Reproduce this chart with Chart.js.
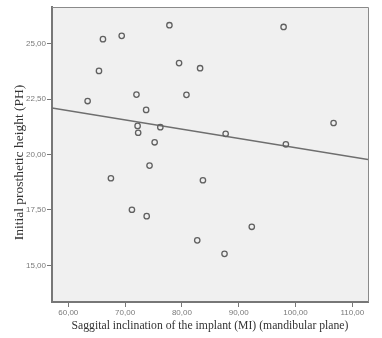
<!DOCTYPE html>
<html>
<head>
<meta charset="utf-8">
<script src="https://cdn.jsdelivr.net/npm/chart.js@4"></script>
<style>
  html, body { margin: 0; padding: 0; background: #fff; }
  #wrap { width: 382px; height: 338px; }
</style>
</head>
<body>
<div id="wrap"><canvas id="scatter-chart" width="382" height="338"></canvas></div>
<script>
// Saggital inclination (MI) vs initial prosthetic height (PH)
const inclination = [77.8, 66.1, 69.4, 79.5, 83.2, 65.4, 63.4, 72.0, 80.8, 73.7, 72.2, 72.3, 76.2,
                     75.2, 74.3, 97.9, 106.7, 87.7, 98.3, 67.5, 71.2, 73.8, 82.7, 83.7, 92.3, 87.5];
const prostheticHeight = [25.83, 25.20, 25.35, 24.12, 23.89, 23.77, 22.41, 22.70, 22.69, 22.01, 21.29, 20.98, 21.23,
                          20.55, 19.50, 25.75, 21.42, 20.93, 20.46, 18.93, 17.51, 17.22, 16.13, 18.84, 16.74, 15.52];

const xTicks = [60, 70, 80, 90, 100, 110];
const yTicks = [15, 17.5, 20, 22.5, 25];
const xRange = [57.13, 112.76];
const yRange = [13.35, 26.65];

const xTitle = 'Saggital inclination of the implant (MI) (mandibular plane)';
const yTitle = 'Initial prosthetic height (PH)';

const points = inclination.map((x, i) => ({ x: x, y: prostheticHeight[i] }));

// least squares fit line
function computeRegression(data) {
    const N = data.length;
    const sumX = data.reduce((acc, p) => acc + p.x, 0);
    const sumY = data.reduce((acc, p) => acc + p.y, 0);
    const sumXY = data.reduce((acc, p) => acc + p.x * p.y, 0);
    const sumX2 = data.reduce((acc, p) => acc + p.x * p.x, 0);
    const slope = (N * sumXY - sumX * sumY) / (N * sumX2 - sumX * sumX);
    const intercept = (sumY - slope * sumX) / N;
    return { slope, intercept };
}
const fit = computeRegression(points);
const fitPoints = xRange.map(x => ({ x: x, y: fit.slope * x + fit.intercept }));

const fmt = v => v.toFixed(2).replace('.', ',');

// gray plot background, thin frame, y title (sits a bit below the axis centre in the original)
const plotFrame = {
    id: 'plotFrame',
    beforeDraw(chart) {
        const { ctx, chartArea: a } = chart;
        ctx.save();
        ctx.fillStyle = '#f0f0f0';
        ctx.fillRect(a.left, a.top, a.right - a.left, a.bottom - a.top);
        ctx.restore();
    },
    afterDraw(chart) {
        const { ctx, chartArea: a } = chart;
        ctx.save();
        ctx.strokeStyle = '#8a8a8a';
        ctx.lineWidth = 1;
        ctx.beginPath();
        ctx.moveTo(a.left, a.top + 0.5);
        ctx.lineTo(a.right + 0.5, a.top + 0.5);
        ctx.lineTo(a.right + 0.5, a.bottom);
        ctx.stroke();

        ctx.translate(19, (a.top + a.bottom) / 2 + 8);
        ctx.rotate(-Math.PI / 2);
        ctx.fillStyle = '#333';
        ctx.font = '13.5px "Liberation Serif"';
        ctx.textAlign = 'center';
        ctx.textBaseline = 'middle';
        ctx.fillText(yTitle, 0, 0);
        ctx.restore();
    }
};

new Chart(document.getElementById('scatter-chart'), {
    type: 'scatter',
    data: {
        datasets: [
            {
                label: 'PH',
                data: points,
                showLine: false,
                pointStyle: 'circle',
                pointRadius: 2.7,
                pointBorderWidth: 1.3,
                borderColor: '#606060',
                backgroundColor: 'rgba(0,0,0,0)'
            },
            {
                label: 'Fit',
                type: 'line',
                data: fitPoints,
                fill: false,
                borderColor: '#6e6e6e',
                borderWidth: 1.5,
                pointRadius: 0
            }
        ]
    },
    options: {
        responsive: false,
        animation: false,
        layout: { padding: { top: 7, right: 14, left: 0, bottom: 0 } },
        plugins: {
            legend: { display: false },
            tooltip: { enabled: false }
        },
        scales: {
            x: {
                type: 'linear',
                position: 'bottom',
                min: xRange[0],
                max: xRange[1],
                afterBuildTicks: s => { s.ticks = xTicks.map(v => ({ value: v })); },
                afterFit: s => { s.height = 36; },
                ticks: {
                    color: '#7a7a7a',
                    font: { family: 'Liberation Sans', size: 8 },
                    padding: 1,
                    maxRotation: 0,
                    callback: v => fmt(v)
                },
                grid: { drawOnChartArea: false, drawTicks: true, tickLength: 5, color: '#777' },
                border: { display: true, color: '#777', width: 2 },
                title: {
                    display: true,
                    text: xTitle,
                    color: '#333',
                    font: { family: 'Liberation Serif', size: 11.7 },
                    padding: { top: 0, bottom: 5 }
                }
            },
            y: {
                type: 'linear',
                min: yRange[0],
                max: yRange[1],
                afterBuildTicks: s => { s.ticks = yTicks.map(v => ({ value: v })); },
                afterFit: s => { s.width = 52; },
                ticks: {
                    color: '#7a7a7a',
                    font: { family: 'Liberation Sans', size: 8 },
                    padding: 1,
                    callback: v => fmt(v)
                },
                grid: { drawOnChartArea: false, drawTicks: true, tickLength: 5, color: '#777' },
                border: { display: true, color: '#777', width: 2 },
                title: { display: false }
            }
        }
    },
    plugins: [plotFrame]
});
</script>
</body>
</html>
